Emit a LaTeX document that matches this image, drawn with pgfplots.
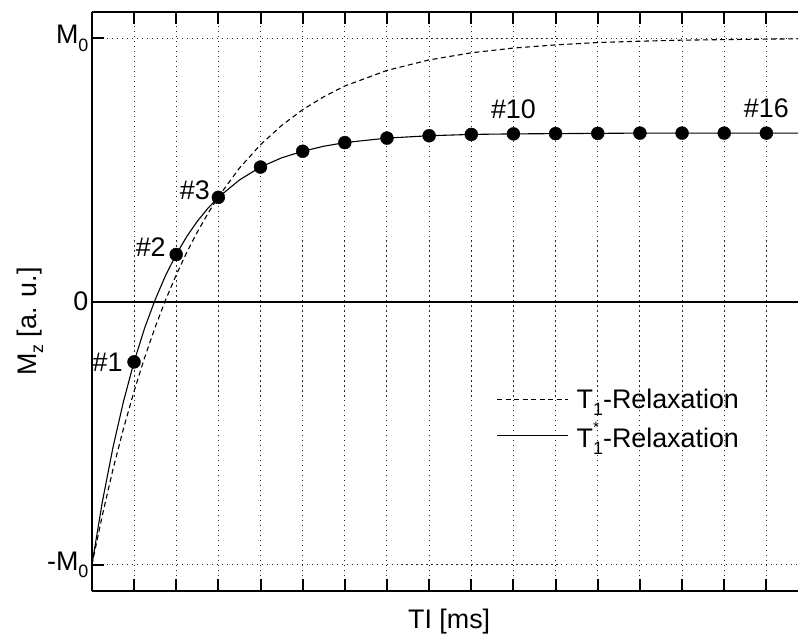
\documentclass[border=0pt]{standalone}
\usepackage{fontspec}
\setmainfont{Liberation Sans}
\usepackage{pgfplots}
\pgfplotsset{compat=1.18}
\newcommand{\sub}[1]{\raisebox{-0.5ex}{\fontsize{18}{18}\selectfont #1}}
\newcommand{\subsup}[2]{\rlap{\raisebox{15bp}{\fontsize{15}{15}\selectfont #2}}\sub{#1}}
\begin{document}
\begin{tikzpicture}[font=\fontsize{27}{32}\selectfont]
\begin{axis}[
 scale only axis, width=707bp, height=580bp,
 xmin=0, xmax=16.75, ymin=-1.1, ymax=1.1,
 axis x line*=box, axis y line*=left,
 axis line style={line width=2bp, black},
 tick align=inside, major tick length=12bp,
 tick style={line width=2bp, black},
 xtick={1,...,16}, xticklabels={},
 ytick={-1,1}, yticklabels={-M\sub{0}, M\sub{0}},
 extra y ticks={0}, extra y tick labels={0},
 extra y tick style={grid=none},
 grid=major,
 major grid style={black!85, line width=1bp, dash pattern=on 1.2bp off 3.8bp},
 tick label style={font=\fontsize{27}{32}\selectfont},
 xlabel={TI [ms]}, ylabel={M\sub{z} [a. u.]},
 label style={font=\fontsize{27}{32}\selectfont},
 xlabel style={at={(axis description cs:0.506,0)}, anchor=north, yshift=-14bp},
 ylabel style={at={(axis description cs:-0.0877,0.4655)}, anchor=center},
 legend cell align=left,
 legend style={at={(axis description cs:0.573,0.353)}, anchor=north west, draw=none, fill=none,
   font=\fontsize{27}{32}\selectfont, row sep=8bp, inner sep=0pt},
 legend image code/.code={\draw[#1] (0bp,0bp) -- (71bp,0bp);},
]
\addplot[black, line width=2bp, forget plot] coordinates {(0,0) (16.75,0)};
\addplot[black, line width=1.1bp, dash pattern=on 5bp off 3.5bp] coordinates {
(0,-1) (0.25,-0.810) (0.5,-0.637) (0.75,-0.482) (1,-0.341) (1.25,-0.213) (1.5,-0.098)
(1.75,0.007) (2,0.101) (2.25,0.187) (2.5,0.264) (2.75,0.334) (3,0.398) (3.5,0.507)
(4,0.596) (4.5,0.669) (5,0.729) (5.5,0.778) (6,0.819) (7,0.878) (8,0.918) (9,0.945)
(10,0.963) (11,0.975) (12,0.984) (13,0.989) (14,0.993) (15,0.995) (16,0.997) (16.75,0.998)};
\addlegendentry{\hspace{6bp}T\sub{1}-Relaxation}
\addplot[black, line width=1.1bp] coordinates {
(0,-1) (0.25,-0.759) (0.5,-0.554) (0.75,-0.379) (1,-0.229) (1.25,-0.101) (1.5,0.007)
(1.75,0.100) (2,0.179) (2.25,0.247) (2.5,0.305) (2.75,0.354) (3,0.396) (3.5,0.462)
(4,0.511) (4.5,0.546) (5,0.571) (5.5,0.590) (6,0.604) (7,0.621) (8,0.630) (9,0.635)
(10,0.637) (11,0.638) (12,0.639) (13,0.640) (14,0.640) (15,0.640) (16,0.640) (16.75,0.640)};
\addlegendentry{\hspace{6bp}T\subsup{1}{*}-Relaxation}
\addplot[only marks, mark=*, mark size=6.5bp, black, forget plot] coordinates {
(1,-0.229) (2,0.179) (3,0.396) (4,0.511) (5,0.571) (6,0.604) (7,0.621) (8,0.630)
(9,0.635) (10,0.637) (11,0.638) (12,0.639) (13,0.640) (14,0.640) (15,0.640) (16,0.640)};
\node[anchor=east, xshift=-8bp] at (axis cs:1,-0.229) {\#1};
\node[anchor=east, xshift=-7bp, yshift=7bp] at (axis cs:2,0.179) {\#2};
\node[anchor=east, xshift=-5bp, yshift=7bp] at (axis cs:3,0.396) {\#3};
\node[anchor=south, yshift=12bp] at (axis cs:10,0.637) {\#10};
\node[anchor=south, yshift=12bp] at (axis cs:16,0.640) {\#16};
\end{axis}
\path (current axis.south west) ++(-92bp,-47bp) rectangle ([yshift=12bp]current axis.north east);
\end{tikzpicture}
\end{document}
